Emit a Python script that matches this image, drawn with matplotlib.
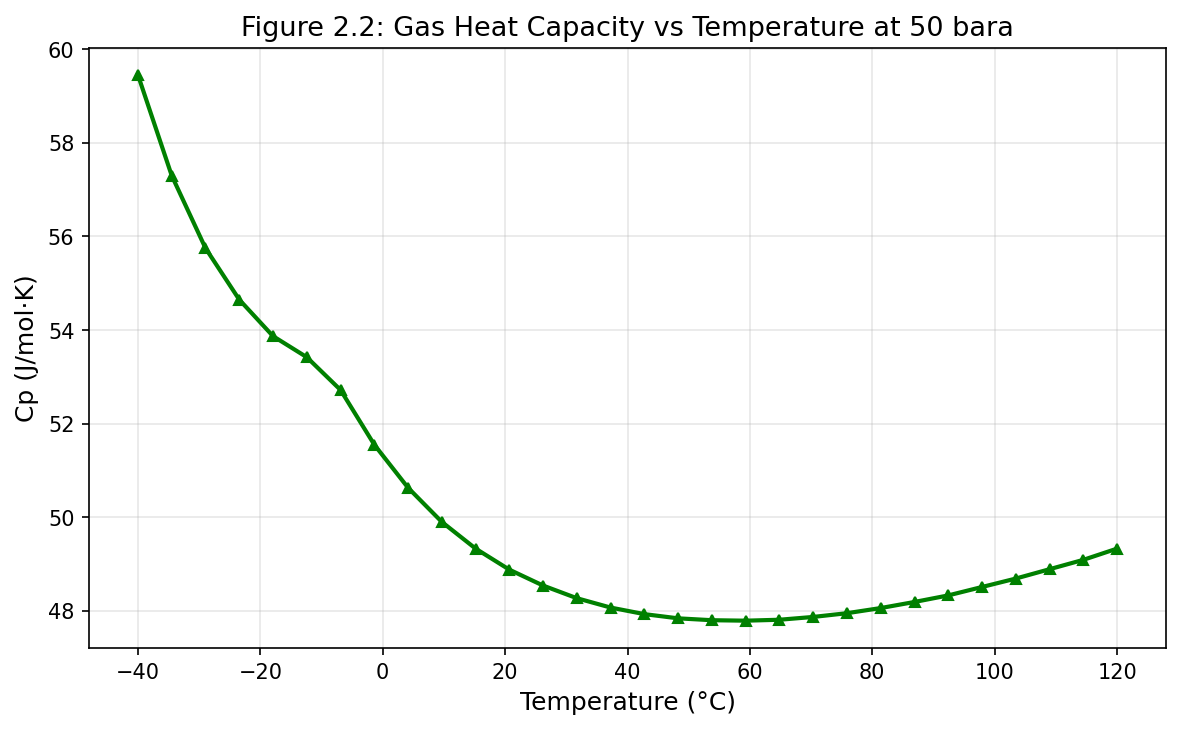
import numpy as np
import matplotlib
matplotlib.use("Agg")
import matplotlib.pyplot as plt

# temperatures (degC) and gas heat capacity at 50 bara
temperature = np.linspace(-40, 120, 30)
cp_values = [59.45, 57.30, 55.75, 54.65, 53.87, 53.42, 52.72, 51.55, 50.63, 49.90,
             49.33, 48.88, 48.54, 48.27, 48.07, 47.93, 47.84, 47.80, 47.79, 47.81,
             47.87, 47.95, 48.06, 48.19, 48.33, 48.51, 48.69, 48.89, 49.09, 49.33]

fig, ax = plt.subplots(figsize=(7.88, 4.87), dpi=150)
ax.plot(temperature, cp_values, color="green", marker="^", markersize=5, linewidth=2)
ax.set_title("Figure 2.2: Gas Heat Capacity vs Temperature at 50 bara", fontsize=13)
ax.set_xlabel("Temperature (°C)", fontsize=12)
ax.set_ylabel("Cp (J/mol·K)", fontsize=12)
ax.grid(True, alpha=0.3)
fig.subplots_adjust(left=0.0753, right=0.9865, top=0.934, bottom=0.1123)
fig.savefig("out.png", dpi=150)
